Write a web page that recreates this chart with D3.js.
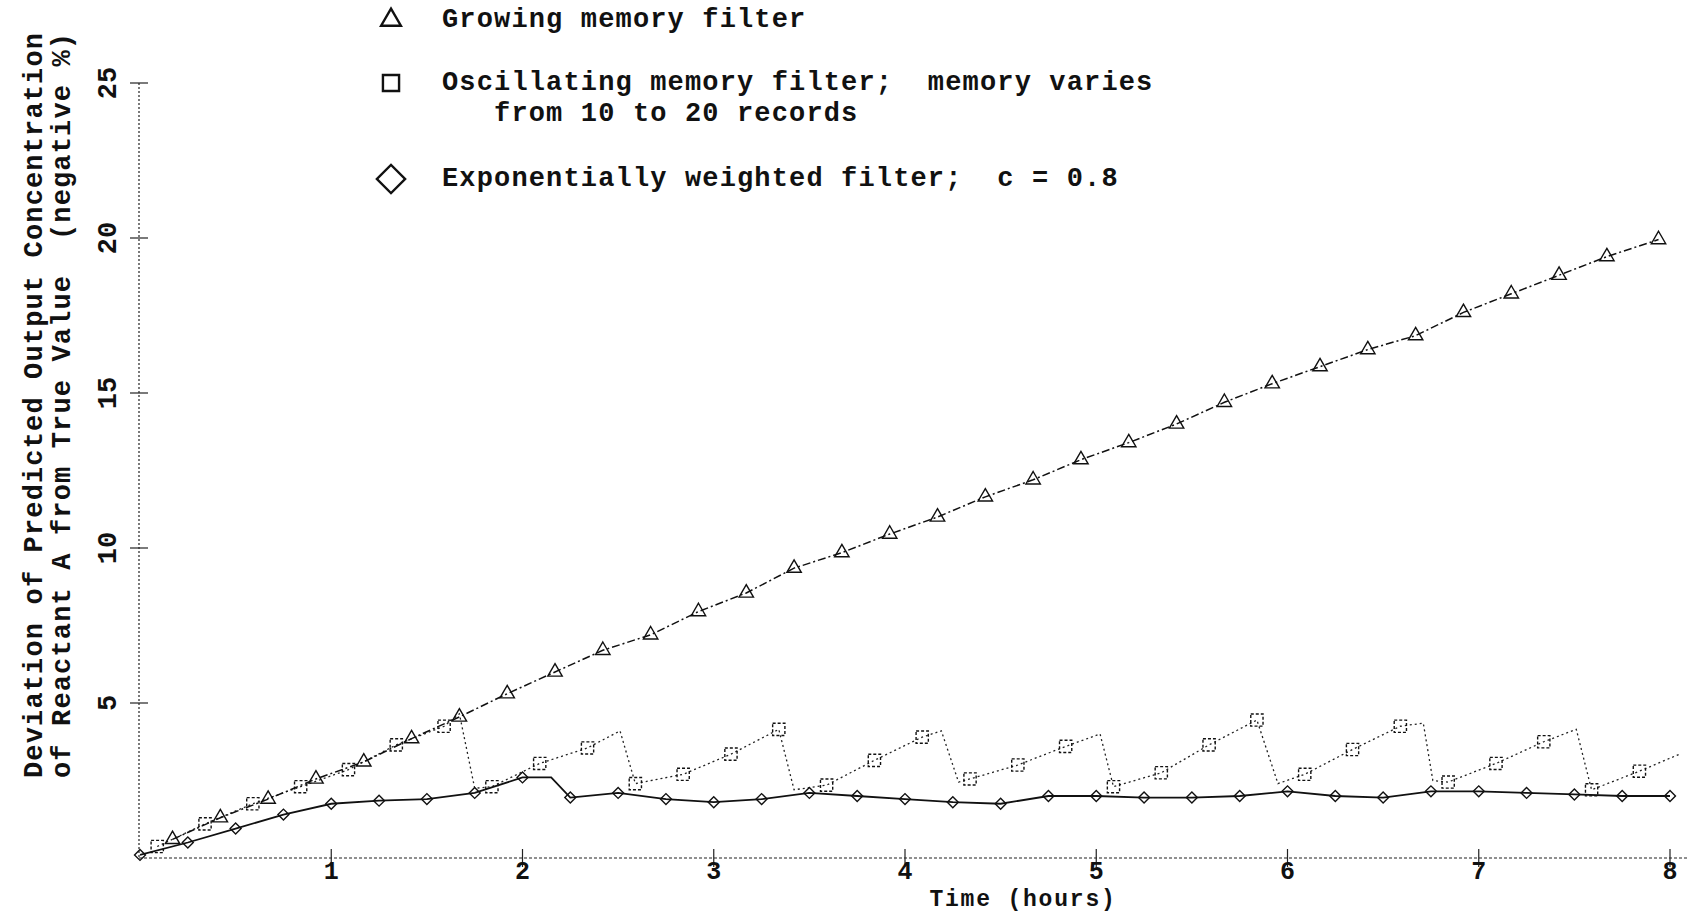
<!DOCTYPE html>
<html>
<head>
<meta charset="utf-8">
<script src="https://cdn.jsdelivr.net/npm/d3@7"></script>
<style>
  body { margin: 0; background: #fff; }
  text { font-family: "Liberation Mono", "DejaVu Sans Mono", monospace; font-weight: bold; fill: #111; white-space: pre; }
</style>
</head>
<body>
<div id="main"></div>
<script>
var ctx = {
    width: 1689,
    height: 916,
    left: 140, right: 1670,
    top: 83, bottom: 858
};

// time axis (hours) and deviation axis (negative %)
var xTicks = [1, 2, 3, 4, 5, 6, 7, 8];
var yTicks = [5, 10, 15, 20, 25];

// growing memory filter (triangles)
var growT = [0.17, 0.42, 0.67, 0.92, 1.17, 1.42, 1.67, 1.92, 2.17, 2.42, 2.67, 2.92, 3.17, 3.42, 3.67, 3.92,
             4.17, 4.42, 4.67, 4.92, 5.17, 5.42, 5.67, 5.92, 6.17, 6.42, 6.67, 6.92, 7.17, 7.42, 7.67, 7.94];
var growV = [0.6, 1.3, 1.9, 2.55, 3.1, 3.85, 4.55, 5.3, 6.0, 6.7, 7.2, 7.95, 8.55, 9.35, 9.85, 10.45,
             11.0, 11.65, 12.2, 12.85, 13.4, 14.0, 14.7, 15.3, 15.85, 16.4, 16.85, 17.6, 18.2, 18.8, 19.4, 19.95];

// oscillating memory filter (squares); mark = 0 is a bend of the line without a symbol
var oscT = [0.09, 0.34, 0.59, 0.84, 1.09, 1.34, 1.59, 1.67, 1.75, 1.84, 2.09, 2.34, 2.51, 2.59, 2.84, 3.09,
            3.34, 3.42, 3.59, 3.84, 4.09, 4.19, 4.28, 4.34, 4.59, 4.84, 5.02, 5.09, 5.34, 5.59, 5.84, 5.95,
            6.09, 6.34, 6.59, 6.71, 6.76, 6.84, 7.09, 7.34, 7.51, 7.59, 7.84, 8.05];
var oscV = [0.37, 1.1, 1.75, 2.3, 2.85, 3.65, 4.25, 4.65, 2.25, 2.3, 3.05, 3.55, 4.1, 2.4, 2.7, 3.35,
            4.15, 2.2, 2.35, 3.15, 3.9, 4.1, 2.45, 2.55, 3.0, 3.6, 4.0, 2.3, 2.75, 3.65, 4.45, 2.4,
            2.7, 3.5, 4.25, 4.35, 2.5, 2.45, 3.05, 3.75, 4.15, 2.2, 2.8, 3.35];
var oscMark = [1, 1, 1, 1, 1, 1, 1, 0, 0, 1, 1, 1, 0, 1, 1, 1,
               1, 0, 1, 1, 1, 0, 0, 1, 1, 1, 0, 1, 1, 1, 1, 0,
               1, 1, 1, 0, 0, 1, 1, 1, 0, 1, 1, 0];

// exponentially weighted filter, c = 0.8 (diamonds)
var expT = [0, 0.25, 0.5, 0.75, 1.0, 1.25, 1.5, 1.75, 2.0, 2.15, 2.25, 2.5, 2.75, 3.0, 3.25, 3.5, 3.75,
            4.0, 4.25, 4.5, 4.75, 5.0, 5.25, 5.5, 5.75, 6.0, 6.25, 6.5, 6.75, 7.0, 7.25, 7.5, 7.75, 8.0];
var expV = [0.1, 0.5, 0.95, 1.4, 1.75, 1.85, 1.9, 2.1, 2.6, 2.6, 1.95, 2.1, 1.9, 1.8, 1.9, 2.1, 2.0,
            1.9, 1.8, 1.75, 2.0, 2.0, 1.95, 1.95, 2.0, 2.15, 2.0, 1.95, 2.15, 2.15, 2.1, 2.05, 2.0, 2.0];
var expMark = [1, 1, 1, 1, 1, 1, 1, 1, 1, 0, 1, 1, 1, 1, 1, 1, 1,
               1, 1, 1, 1, 1, 1, 1, 1, 1, 1, 1, 1, 1, 1, 1, 1, 1];

var legendLines = [
    {sym: "tri", lines: ["Growing memory filter"]},
    {sym: "sq", lines: ["Oscillating memory filter;  memory varies", "   from 10 to 20 records"]},
    {sym: "dia", lines: ["Exponentially weighted filter;  c = 0.8"]}
];

var yTitle = ["Deviation of Predicted Output Concentration",
              "of Reactant A from True Value  (negative %)"];
var xTitle = "Time (hours)";

var zip = function(ts, vs, marks) {
    return ts.map(function(t, i) {
        return {t: t, v: vs[i], mark: marks ? marks[i] : 1};
    });
};

var createChart = function(svg) {
    svg.attr("width", ctx.width).attr("height", ctx.height);

    var x = d3.scaleLinear().domain([0, 8]).range([ctx.left, ctx.right]);
    var y = d3.scaleLinear().domain([0, 25]).range([ctx.bottom, ctx.top]);

    // axes: dotted lines with cross ticks
    var ax = svg.append("g").attr("stroke", "#222").attr("stroke-width", 1.2);
    ax.append("line")
      .attr("x1", x(0) - 1).attr("x2", x(0) - 1)
      .attr("y1", y(25)).attr("y2", y(0))
      .attr("stroke-dasharray", "2,2");
    ax.append("line")
      .attr("x1", x(0) - 1).attr("x2", ctx.width)
      .attr("y1", y(0)).attr("y2", y(0))
      .attr("stroke-dasharray", "3,2");

    ax.selectAll(".ytick").data(yTicks).enter().append("line")
      .attr("x1", x(0) - 10).attr("x2", x(0) + 8)
      .attr("y1", function(d) { return y(d); })
      .attr("y2", function(d) { return y(d); });
    ax.selectAll(".xtick").data(xTicks).enter().append("line")
      .attr("x1", function(d) { return x(d); })
      .attr("x2", function(d) { return x(d); })
      .attr("y1", y(0) - 9).attr("y2", y(0) + 9);

    svg.selectAll(".ylab").data(yTicks).enter().append("text")
       .attr("transform", function(d) { return "translate(116," + y(d) + ")rotate(-90)"; })
       .attr("text-anchor", "middle")
       .style("font-size", "27px")
       .text(function(d) { return d; });

    svg.selectAll(".xlab").data(xTicks).enter().append("text")
       .attr("x", function(d) { return x(d); })
       .attr("y", 879)
       .attr("text-anchor", "middle")
       .style("font-size", "25px")
       .text(function(d) { return d; });

    svg.append("text")
       .attr("x", 1023).attr("y", 906)
       .attr("text-anchor", "middle")
       .style("font-size", "23px")
       .style("letter-spacing", "1.8px")
       .text(xTitle);

    svg.selectAll(".ytitle").data(yTitle).enter().append("text")
       .attr("transform", function(d, i) { return "translate(" + (42 + i * 28) + ",778)rotate(-90)"; })
       .style("font-size", "27px")
       .style("letter-spacing", "1.15px")
       .text(function(d) { return d; });

    // series
    var line = d3.line()
                 .x(function(d) { return x(d.t); })
                 .y(function(d) { return y(d.v); });

    var grow = zip(growT, growV),
        osc = zip(oscT, oscV, oscMark),
        expo = zip(expT, expV, expMark);

    svg.append("path").datum(osc)
       .attr("d", line).attr("fill", "none")
       .attr("stroke", "#222").attr("stroke-width", 1.3)
       .attr("stroke-dasharray", "2,3");
    svg.append("path").datum(grow)
       .attr("d", line).attr("fill", "none")
       .attr("stroke", "#111").attr("stroke-width", 1.5)
       .attr("stroke-dasharray", "8,3,2,3");
    svg.append("path").datum(expo)
       .attr("d", line).attr("fill", "none")
       .attr("stroke", "#111").attr("stroke-width", 1.8);

    var tri = d3.symbol().type(d3.symbolTriangle).size(90),
        sq = d3.symbol().type(d3.symbolSquare).size(150),
        dia = d3.symbol().type(d3.symbolSquare).size(60);

    var marks = svg.append("g").attr("fill", "none").attr("stroke", "#111").attr("stroke-width", 1.4);
    marks.selectAll(".tri").data(grow).enter().append("path")
         .attr("d", tri)
         .attr("transform", function(d) { return "translate(" + x(d.t) + "," + y(d.v) + ")"; });
    marks.selectAll(".sq").data(osc.filter(function(d) { return d.mark; })).enter().append("path")
         .attr("d", sq)
         .attr("stroke-dasharray", "3,2")
         .attr("transform", function(d) { return "translate(" + x(d.t) + "," + y(d.v) + ")"; });
    marks.selectAll(".dia").data(expo.filter(function(d) { return d.mark; })).enter().append("path")
         .attr("d", dia)
         .attr("transform", function(d) { return "translate(" + x(d.t) + "," + y(d.v) + ")rotate(45)"; });

    // legend
    var leg = svg.append("g");
    var legY = [27, 90, 186];
    var legSym = {
        tri: d3.symbol().type(d3.symbolTriangle).size(170),
        sq: d3.symbol().type(d3.symbolSquare).size(260),
        dia: d3.symbol().type(d3.symbolSquare).size(400)
    };
    legendLines.forEach(function(item, i) {
        leg.append("path")
           .attr("d", legSym[item.sym])
           .attr("fill", "none").attr("stroke", "#111").attr("stroke-width", 2.4)
           .attr("transform", "translate(391," + (legY[i] - 7) + ")" + (item.sym === "dia" ? "rotate(45)" : ""));
        item.lines.forEach(function(txt, j) {
            leg.append("text")
               .attr("x", 442).attr("y", legY[i] + j * 31)
               .style("font-size", "27px")
               .style("letter-spacing", "1.15px")
               .text(txt);
        });
    });
};

var createViz = function() {
    var svgEl = d3.select("#main").append("svg");
    createChart(svgEl);
};

createViz();
</script>
</body>
</html>
